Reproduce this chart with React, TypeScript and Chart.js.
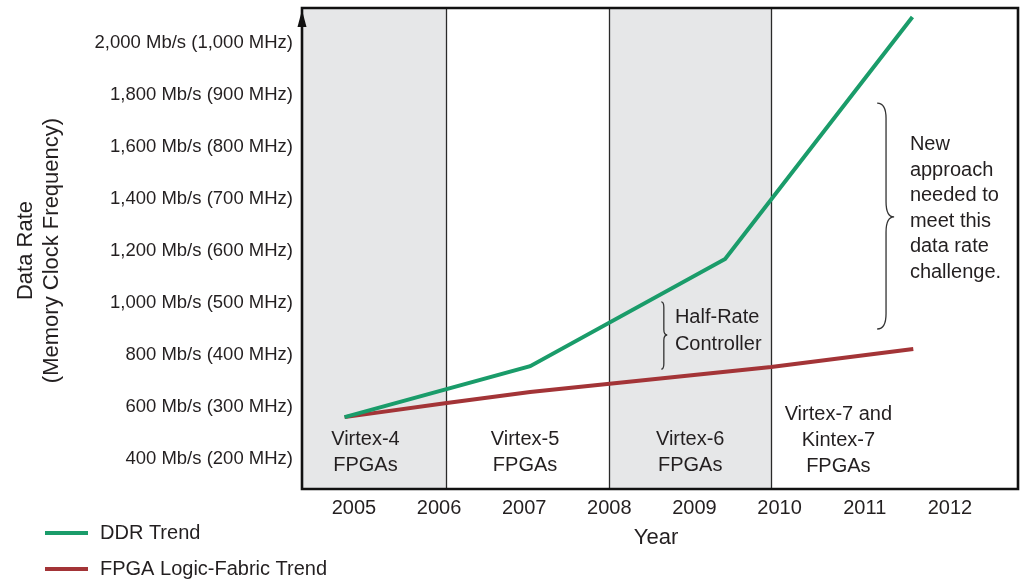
import React, { useEffect, useRef } from "react";
import { Chart, registerables } from "chart.js";

Chart.register(...registerables);

const FONT = "'Liberation Sans', Arial, Helvetica, sans-serif";
const TEXT = "#231f20";

// ---- data ----
const years = [2005, 2006, 2007, 2008, 2009, 2010, 2011, 2012];
const yTickValues = [400, 600, 800, 1000, 1200, 1400, 1600, 1800, 2000];
const yTickLabels = [
  "400 Mb/s (200 MHz)",
  "600 Mb/s (300 MHz)",
  "800 Mb/s (400 MHz)",
  "1,000 Mb/s (500 MHz)",
  "1,200 Mb/s (600 MHz)",
  "1,400 Mb/s (700 MHz)",
  "1,600 Mb/s (800 MHz)",
  "1,800 Mb/s (900 MHz)",
  "2,000 Mb/s (1,000 MHz)",
];
const ddrX = [2004.89, 2007.07, 2009.36, 2011.56];
const ddrY = [561, 757, 1169, 2100];
const fabricX = [2004.89, 2006.09, 2007.07, 2009.9, 2011.57];
const fabricY = [561, 615, 658, 754, 823];
const seriesNames = ["DDR Trend", "FPGA Logic-Fabric Trend"];
const seriesColors = ["#1a9c6a", "#a33437"];

const xMin = 2004.39;
const xMax = 2012.8;
const yMin = 284.6;
const yMax = 2134.6;

const shadedBands = [
  [xMin, 2006.08],
  [2008.0, 2009.9],
];
const dividers = [2006.08, 2008.0, 2009.9];

// family labels: [x, y of first line, lines]
const familyLabels: [number, number, string[]][] = [
  [2005.135, 475, ["Virtex-4", "FPGAs"]],
  [2007.01, 475, ["Virtex-5", "FPGAs"]],
  [2008.95, 475, ["Virtex-6", "FPGAs"]],
  [2010.69, 571, ["Virtex-7 and", "Kintex-7", "FPGAs"]],
];
const halfRateText = ["Half-Rate", "Controller"];
const halfRatePos = [2008.77, 944];
const challengeText = ["New", "approach", "needed to", "meet this", "data rate", "challenge."];
const challengePos = [2011.53, 1610];
// braces: [xEnd, xStem, xTip, yTop, yMid, yBottom]
const braces = [
  [2008.61, 2008.64, 2008.68, 1004, 877, 746],
  [2011.146, 2011.25, 2011.345, 1769, 1331, 900],
];

const pts = (xs: number[], ys: number[]) => xs.map((x, i) => ({ x, y: ys[i] }));

function drawBrace(ctx: CanvasRenderingContext2D, xs: any, ys: any, b: number[]) {
  const xe = xs.getPixelForValue(b[0]);
  const xst = xs.getPixelForValue(b[1]);
  const xt = xs.getPixelForValue(b[2]);
  const yt = ys.getPixelForValue(b[3]);
  const ym = ys.getPixelForValue(b[4]);
  const yb = ys.getPixelForValue(b[5]);
  const r = Math.max(3, (xt - xe) * 0.9);
  ctx.beginPath();
  ctx.moveTo(xe, yt);
  ctx.quadraticCurveTo(xst, yt, xst, yt + r);
  ctx.lineTo(xst, ym - r);
  ctx.quadraticCurveTo(xst, ym, xt, ym);
  ctx.quadraticCurveTo(xst, ym, xst, ym + r);
  ctx.lineTo(xst, yb - r);
  ctx.quadraticCurveTo(xst, yb, xe, yb);
  ctx.stroke();
}

const decor = {
  id: "decor",
  beforeDatasetsDraw(chart: any) {
    const { ctx, chartArea: a, scales } = chart;
    const x = scales.x;
    ctx.save();
    ctx.fillStyle = "#e6e7e8";
    for (const [s, e] of shadedBands) {
      const x0 = x.getPixelForValue(s);
      const x1 = x.getPixelForValue(e);
      ctx.fillRect(x0, a.top, x1 - x0, a.bottom - a.top);
    }
    ctx.strokeStyle = "#2a2a2a";
    ctx.lineWidth = 1.3;
    for (const d of dividers) {
      const px = Math.round(x.getPixelForValue(d)) + 0.5;
      ctx.beginPath();
      ctx.moveTo(px, a.top);
      ctx.lineTo(px, a.bottom);
      ctx.stroke();
    }
    ctx.restore();
  },
  afterDatasetsDraw(chart: any) {
    const { ctx, chartArea: a, scales } = chart;
    const x = scales.x;
    const y = scales.y;
    ctx.save();
    // frame
    ctx.strokeStyle = "#111";
    ctx.lineWidth = 2.6;
    ctx.beginPath();
    ctx.moveTo(a.left, a.top);
    ctx.lineTo(a.right, a.top);
    ctx.lineTo(a.right, a.bottom);
    ctx.lineTo(a.left, a.bottom);
    ctx.closePath();
    ctx.stroke();
    // arrow
    ctx.fillStyle = "#111";
    ctx.beginPath();
    ctx.moveTo(a.left, a.top + 2);
    ctx.lineTo(a.left - 4.5, a.top + 19);
    ctx.lineTo(a.left + 4.5, a.top + 19);
    ctx.closePath();
    ctx.fill();

    // texts
    ctx.fillStyle = TEXT;
    ctx.font = `20px ${FONT}`;
    ctx.textBaseline = "middle";
    ctx.textAlign = "center";
    for (const [fx, fy, lines] of familyLabels) {
      const px = x.getPixelForValue(fx);
      const py = y.getPixelForValue(fy);
      lines.forEach((l, i) => ctx.fillText(l, px, py + i * 26));
    }
    ctx.textAlign = "left";
    {
      const px = x.getPixelForValue(halfRatePos[0]);
      const py = y.getPixelForValue(halfRatePos[1]);
      halfRateText.forEach((l, i) => ctx.fillText(l, px, py + i * 27));
    }
    {
      const px = x.getPixelForValue(challengePos[0]);
      const py = y.getPixelForValue(challengePos[1]);
      challengeText.forEach((l, i) => ctx.fillText(l, px, py + i * 25.6));
    }
    // braces
    ctx.strokeStyle = "#333";
    ctx.lineWidth = 1.3;
    for (const b of braces) drawBrace(ctx, x, y, b);

    // axis titles
    ctx.font = `22px ${FONT}`;
    ctx.textAlign = "center";
    ctx.fillText("Year", (a.left + a.right) / 2 - 4, a.bottom + 49);
    ctx.save();
    ctx.translate(26, (a.top + a.bottom) / 2 + 2);
    ctx.rotate(-Math.PI / 2);
    ctx.fillText("Data Rate", 0, 0);
    ctx.fillText("(Memory Clock Frequency)", 0, 26);
    ctx.restore();

    // legend
    ctx.font = `20px ${FONT}`;
    ctx.textAlign = "left";
    chart.data.datasets.forEach((ds: any, i: number) => {
      const ly = a.bottom + 44 + i * 36;
      ctx.strokeStyle = ds.borderColor;
      ctx.lineWidth = 4;
      ctx.beginPath();
      ctx.moveTo(45, ly);
      ctx.lineTo(88, ly);
      ctx.stroke();
      ctx.fillStyle = TEXT;
      ctx.fillText(ds.label, 100, ly);
    });
    ctx.restore();
  },
};

export default function App() {
  const ref = useRef<HTMLCanvasElement>(null);
  useEffect(() => {
    if (!ref.current) return;
    const chart = new Chart(ref.current, {
      type: "line",
      data: {
        datasets: [
          {
            label: seriesNames[0],
            data: pts(ddrX, ddrY),
            borderColor: seriesColors[0],
            backgroundColor: seriesColors[0],
            borderWidth: 4,
            pointRadius: 0,
            tension: 0,
          },
          {
            label: seriesNames[1],
            data: pts(fabricX, fabricY),
            borderColor: seriesColors[1],
            backgroundColor: seriesColors[1],
            borderWidth: 4,
            pointRadius: 0,
            tension: 0,
          },
        ],
      },
      options: {
        responsive: false,
        animation: false,
        devicePixelRatio: 1,
        layout: { padding: { top: 8, right: 3, left: 0, bottom: 0 } },
        plugins: { legend: { display: false }, tooltip: { enabled: false } },
        scales: {
          x: {
            type: "linear",
            min: xMin,
            max: xMax,
            grid: { display: false, drawTicks: false },
            border: { display: false },
            afterBuildTicks: (s: any) => {
              s.ticks = years.map((v) => ({ value: v }));
            },
            afterFit: (s: any) => {
              s.height = 95;
              s.paddingLeft = 0;
              s.paddingRight = 0;
            },
            ticks: {
              autoSkip: false,
              maxRotation: 0,
              padding: 7,
              color: TEXT,
              font: { family: FONT, size: 20 },
              callback: (v: any) => String(v),
            },
          },
          y: {
            type: "linear",
            min: yMin,
            max: yMax,
            grid: { display: false, drawTicks: false },
            border: { display: false },
            afterBuildTicks: (s: any) => {
              s.ticks = yTickValues.map((v) => ({ value: v }));
            },
            afterFit: (s: any) => {
              s.width = 302;
              s.paddingTop = 0;
              s.paddingBottom = 0;
            },
            ticks: {
              autoSkip: false,
              padding: 9,
              color: TEXT,
              font: { family: FONT, size: 18.5 },
              callback: (v: any) => {
                const i = yTickValues.indexOf(Number(v));
                return i >= 0 ? yTickLabels[i] : "";
              },
            },
          },
        },
      },
      plugins: [decor],
    });
    return () => chart.destroy();
  }, []);
  return (
    <div style={{ position: "absolute", left: 0, top: 0, width: 1021, height: 584, background: "#fff" }}>
      <canvas ref={ref} width={1021} height={584} style={{ display: "block" }} />
    </div>
  );
}
